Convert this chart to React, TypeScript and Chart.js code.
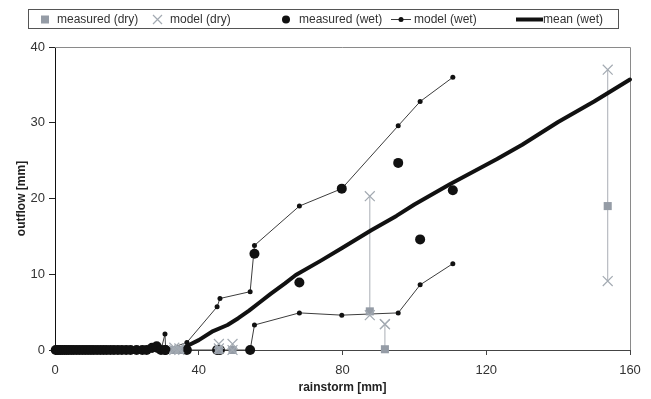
import React, { useEffect, useRef } from "react";
import { Chart, registerables } from "chart.js";

Chart.register(...registerables);

// ---- data ----
const wetRain = [
  0.2, 0.6, 1.0, 1.5, 2.0, 2.6, 3.2, 3.8, 4.5, 5.2, 6.0, 6.8, 7.6, 8.4, 9.2,
  10.0, 10.8, 11.7, 12.6, 13.5, 14.4, 15.4, 16.4, 17.5, 18.6, 19.8, 21.0, 22.7,
  24.3, 25.5, 27.0, 28.3, 29.5, 30.6, 30.8, 36.7, 45.1, 45.9, 54.3, 55.5, 68.0,
  79.8, 95.5, 101.6, 110.7,
];
const wetMeasured = [
  0, 0, 0, 0, 0, 0, 0, 0, 0, 0, 0, 0, 0, 0, 0,
  0, 0, 0, 0, 0, 0, 0, 0, 0, 0, 0, 0, 0,
  0, 0, 0.3, 0.5, 0, 0, 0, 0, 0, 0, 0, 12.7, 8.9,
  21.3, 24.7, 14.6, 21.1,
];
const wetModelHigh = [
  0, 0, 0, 0, 0, 0, 0, 0, 0, 0, 0, 0, 0, 0, 0,
  0, 0, 0, 0, 0, 0, 0, 0, 0, 0, 0, 0, 0,
  0, 0, 0, 0, 0, 2.1, 0, 1.0, 5.7, 6.8, 7.7, 13.8, 19.0,
  21.3, 29.6, 32.8, 36.0,
];
const wetModelLow = [
  0, 0, 0, 0, 0, 0, 0, 0, 0, 0, 0, 0, 0, 0, 0,
  0, 0, 0, 0, 0, 0, 0, 0, 0, 0, 0, 0, 0,
  0, 0, 0, 0, 0, 0, 0, 0, 0, 0, 0, 3.3, 4.9,
  4.6, 4.9, 8.6, 11.4,
];

const dryRain = [33.2, 34.6, 45.6, 49.4, 87.6, 91.8, 153.8];
const dryMeasured = [0, 0, 0, 0, 5.1, 0.1, 19.0];
const dryModelHigh = [0.3, 0.2, 0.8, 0.8, 20.3, 3.4, 37.0];
const dryModelLow = [0, 0, 0.2, 0, 4.6, 3.4, 9.1];

const meanRain = [
  0, 10, 20, 30, 35, 37, 40, 44, 48, 51, 54, 57, 60, 64, 67, 74, 80, 88, 95,
  100, 110, 123, 130, 140, 150, 160,
];
const meanOutflow = [
  0, 0, 0, 0, 0.1, 0.6, 1.3, 2.5, 3.3, 4.2, 5.2, 6.3, 7.4, 8.8, 9.9, 11.8,
  13.5, 15.8, 17.7, 19.2, 21.9, 25.2, 27.1, 30.1, 32.8, 35.7,
];

const xTicks = [0, 40, 80, 120, 160];
const yTicks = [0, 10, 20, 30, 40];
const legendLabels = [
  "measured (dry)",
  "model (dry)",
  "measured (wet)",
  "model (wet)",
  "mean (wet)",
];
const xTitle = "rainstorm [mm]";
const yTitle = "outflow [mm]";

// ---- styles ----
const FONT = "'Liberation Sans', Arial, Helvetica, sans-serif";
const DRY_SQ = "#959ca6";
const DRY_X = "#a3aab2";
const RANGE = "#a9aeb5";
const WET = "#111111";
const MODEL_LINE = "#3c3c3c";
const TEXT = "#333333";

const framePlugin = {
  id: "frame",
  beforeDatasetsDraw(chart: any) {
    const { ctx, chartArea } = chart;
    ctx.save();
    ctx.strokeStyle = "#8a8a8a";
    ctx.lineWidth = 1;
    ctx.beginPath();
    ctx.moveTo(chartArea.left, chartArea.top + 0.5);
    ctx.lineTo(chartArea.right + 0.5, chartArea.top + 0.5);
    ctx.lineTo(chartArea.right + 0.5, chartArea.bottom);
    ctx.stroke();
    ctx.restore();
  },
};

const legendPlugin = {
  id: "customLegend",
  afterDraw(chart: any) {
    const ctx = chart.ctx;
    ctx.save();
    ctx.strokeStyle = "#555555";
    ctx.lineWidth = 1;
    ctx.strokeRect(28.5, 9.5, 590, 19);
    const cy = 19.5;
    ctx.font = "12px " + FONT;
    ctx.textBaseline = "middle";
    ctx.textAlign = "left";

    // measured (dry): square
    ctx.fillStyle = DRY_SQ;
    ctx.fillRect(41, cy - 4, 8, 8);
    ctx.fillStyle = TEXT;
    ctx.fillText(legendLabels[0], 57, cy);

    // model (dry): X
    ctx.strokeStyle = DRY_X;
    ctx.lineWidth = 1.2;
    ctx.beginPath();
    ctx.moveTo(153, cy - 4.5);
    ctx.lineTo(162, cy + 4.5);
    ctx.moveTo(162, cy - 4.5);
    ctx.lineTo(153, cy + 4.5);
    ctx.stroke();
    ctx.fillStyle = TEXT;
    ctx.fillText(legendLabels[1], 170, cy);

    // measured (wet): circle
    ctx.fillStyle = WET;
    ctx.beginPath();
    ctx.arc(286, cy, 4, 0, Math.PI * 2);
    ctx.fill();
    ctx.fillStyle = TEXT;
    ctx.fillText(legendLabels[2], 299, cy);

    // model (wet): line + dot
    ctx.strokeStyle = MODEL_LINE;
    ctx.lineWidth = 1;
    ctx.beginPath();
    ctx.moveTo(391, cy);
    ctx.lineTo(411, cy);
    ctx.stroke();
    ctx.fillStyle = WET;
    ctx.beginPath();
    ctx.arc(401, cy, 2.5, 0, Math.PI * 2);
    ctx.fill();
    ctx.fillStyle = TEXT;
    ctx.fillText(legendLabels[3], 414, cy);

    // mean (wet): thick line
    ctx.strokeStyle = WET;
    ctx.lineWidth = 4;
    ctx.beginPath();
    ctx.moveTo(516, cy);
    ctx.lineTo(543, cy);
    ctx.stroke();
    ctx.fillStyle = TEXT;
    ctx.fillText(legendLabels[4], 543, cy);
    ctx.restore();
  },
};

export default function App() {
  const canvasRef = useRef<HTMLCanvasElement | null>(null);

  useEffect(() => {
    document.body.style.margin = "0";
    const canvas = canvasRef.current;
    if (!canvas) return;

    const rangeSets = dryRain.map((x, i) => {
      const lo = Math.min(dryMeasured[i], dryModelLow[i], dryModelHigh[i]);
      const hi = Math.max(dryMeasured[i], dryModelLow[i], dryModelHigh[i]);
      return {
        label: "range " + i,
        data: [
          { x, y: lo },
          { x, y: hi },
        ],
        showLine: true,
        borderColor: RANGE,
        borderWidth: 1,
        pointRadius: 0,
        clip: false,
        order: 10,
      };
    });

    const chart = new Chart(canvas, {
      type: "scatter",
      data: {
        datasets: [
          ...rangeSets,
          {
            label: "model (wet) high",
            data: wetRain.map((x, i) => ({ x, y: wetModelHigh[i] })),
            showLine: true,
            borderColor: MODEL_LINE,
            borderWidth: 1,
            pointRadius: 2.5,
            pointBackgroundColor: WET,
            pointBorderColor: WET,
            pointBorderWidth: 0,
            clip: false,
            order: 6,
          },
          {
            label: "model (wet) low",
            data: wetRain.map((x, i) => ({ x, y: wetModelLow[i] })),
            showLine: true,
            borderColor: MODEL_LINE,
            borderWidth: 1,
            pointRadius: 2.5,
            pointBackgroundColor: WET,
            pointBorderColor: WET,
            pointBorderWidth: 0,
            clip: false,
            order: 5,
          },
          {
            label: "mean (wet)",
            data: meanRain.map((x, i) => ({ x, y: meanOutflow[i] })),
            showLine: true,
            borderColor: WET,
            borderWidth: 4,
            borderJoinStyle: "round",
            borderCapStyle: "round",
            pointRadius: 0,
            clip: false,
            order: 4,
          },
          {
            label: "measured (wet)",
            data: wetRain.map((x, i) => ({ x, y: wetMeasured[i] })),
            pointRadius: 5,
            pointBackgroundColor: WET,
            pointBorderColor: WET,
            pointBorderWidth: 0,
            clip: false,
            order: 3,
          },
          {
            label: "measured (dry)",
            data: dryRain.map((x, i) => ({ x, y: dryMeasured[i] })),
            pointStyle: "rect",
            pointRadius: 5.7,
            pointBackgroundColor: DRY_SQ,
            pointBorderColor: DRY_SQ,
            pointBorderWidth: 0,
            clip: false,
            order: 2,
          },
          {
            label: "model (dry) high",
            data: dryRain.map((x, i) => ({ x, y: dryModelHigh[i] })),
            pointStyle: "crossRot",
            pointRadius: 7,
            pointBorderColor: DRY_X,
            pointBorderWidth: 1.2,
            clip: false,
            order: 1,
          },
          {
            label: "model (dry) low",
            data: dryRain.map((x, i) => ({ x, y: dryModelLow[i] })),
            pointStyle: "crossRot",
            pointRadius: 7,
            pointBorderColor: DRY_X,
            pointBorderWidth: 1.2,
            clip: false,
            order: 1,
          },
        ],
      },
      options: {
        animation: false,
        responsive: false,
        devicePixelRatio: 1,
        layout: { padding: { top: 47, right: 21, bottom: 0, left: 0 } },
        plugins: {
          legend: { display: false },
          tooltip: { enabled: false },
        },
        scales: {
          x: {
            type: "linear",
            min: 0,
            max: 160,
            afterBuildTicks: (s: any) => {
              s.ticks = xTicks.map((v) => ({ value: v }));
            },
            afterFit: (s: any) => {
              s.height = 49;
            },
            grid: {
              display: true,
              drawOnChartArea: false,
              drawTicks: true,
              tickLength: 5,
              color: "#444",
            },
            border: { display: true, color: "#444", width: 1 },
            ticks: {
              padding: 8,
              color: TEXT,
              font: { family: FONT, size: 13 },
              maxRotation: 0,
            },
            title: {
              display: true,
              text: xTitle,
              color: "#222",
              font: { family: FONT, size: 12, weight: "bold" },
              padding: { top: 4, bottom: 4 },
            },
          },
          y: {
            type: "linear",
            min: 0,
            max: 40,
            afterBuildTicks: (s: any) => {
              s.ticks = yTicks.map((v) => ({ value: v }));
            },
            afterFit: (s: any) => {
              s.width = 55;
            },
            grid: {
              display: true,
              drawOnChartArea: false,
              drawTicks: true,
              tickLength: 6,
              color: "#222",
            },
            border: { display: true, color: "#111", width: 1 },
            ticks: {
              padding: 4,
              color: TEXT,
              font: { family: FONT, size: 13 },
            },
            title: {
              display: true,
              text: yTitle,
              color: "#222",
              font: { family: FONT, size: 12, weight: "bold" },
              padding: { top: 14, bottom: 4 },
            },
          },
        },
      },
      plugins: [framePlugin, legendPlugin],
    } as any);

    return () => {
      chart.destroy();
    };
  }, []);

  return (
    <div style={{ width: 651, height: 399, background: "#fff" }}>
      <canvas
        ref={canvasRef}
        width={651}
        height={399}
        style={{ display: "block", width: 651, height: 399 }}
      />
    </div>
  );
}
